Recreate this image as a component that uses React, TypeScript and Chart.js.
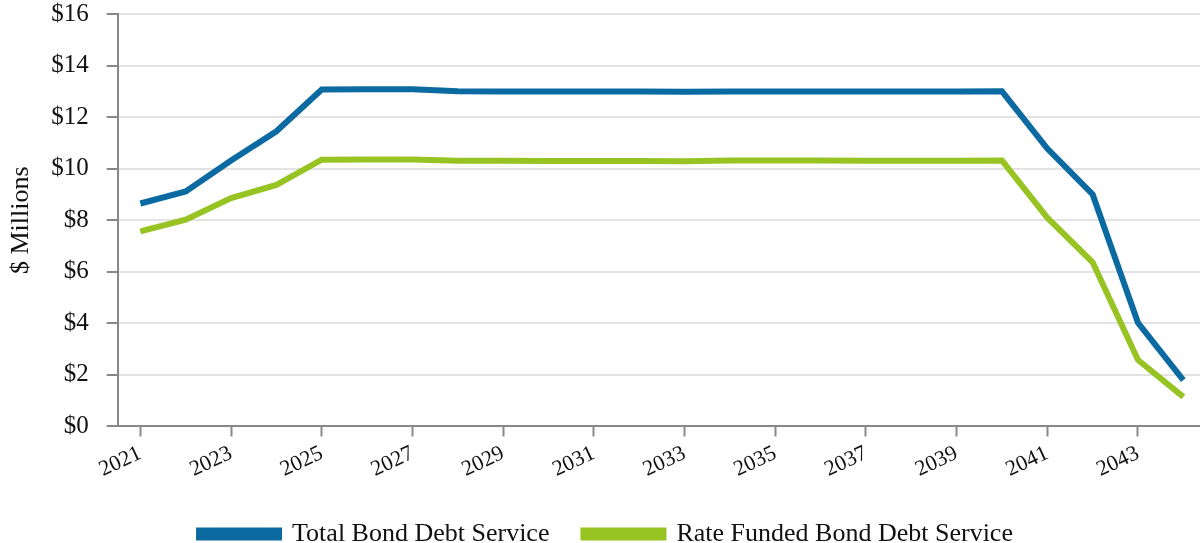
import React, { useEffect, useRef } from "react";
import { Chart, registerables } from "chart.js";

Chart.register(...registerables);

const years = [
  "2021", "2022", "2023", "2024", "2025", "2026", "2027", "2028", "2029", "2030",
  "2031", "2032", "2033", "2034", "2035", "2036", "2037", "2038", "2039", "2040",
  "2041", "2042", "2043", "2044",
];

const totalBondDebtService = [
  8.65, 9.12, 10.32, 11.45, 13.07, 13.08, 13.08, 13.0, 12.99, 12.99,
  12.99, 12.99, 12.98, 12.99, 12.99, 12.99, 12.99, 12.99, 12.99, 13.0,
  10.78, 9.0, 4.02, 1.8,
];

const rateFundedBondDebtService = [
  7.57, 8.02, 8.86, 9.37, 10.35, 10.36, 10.36, 10.31, 10.31, 10.3,
  10.3, 10.3, 10.29, 10.32, 10.32, 10.32, 10.31, 10.31, 10.31, 10.32,
  8.1, 6.37, 2.58, 1.15,
];

const seriesNames = ["Total Bond Debt Service", "Rate Funded Bond Debt Service"];
const yTicks = [0, 2, 4, 6, 8, 10, 12, 14, 16];

const BLUE = "#0a6aa1";
const GREEN = "#97c423";
const FONT = "'Liberation Serif', 'Times New Roman', serif";

export default function App() {
  const ref = useRef<HTMLCanvasElement | null>(null);

  useEffect(() => {
    document.body.style.margin = "0";
    document.body.style.overflow = "hidden";
    const canvas = ref.current;
    if (!canvas) return;
    const chart = new Chart(canvas, {
      type: "line",
      data: {
        labels: years,
        datasets: [
          {
            label: seriesNames[0],
            data: totalBondDebtService,
            borderColor: BLUE,
            backgroundColor: BLUE,
            borderWidth: 6,
            pointRadius: 0,
            tension: 0,
          },
          {
            label: seriesNames[1],
            data: rateFundedBondDebtService,
            borderColor: GREEN,
            backgroundColor: GREEN,
            borderWidth: 6,
            pointRadius: 0,
            tension: 0,
          },
        ],
      },
      options: {
        responsive: false,
        animation: false,
        devicePixelRatio: 1,
        layout: { padding: { top: 0, left: 6, right: 0, bottom: -12 } },
        plugins: {
          tooltip: { enabled: false },
          legend: {
            position: "bottom",
            labels: {
              boxWidth: 80,
              boxHeight: 7,
              padding: 34,
              color: "#111",
              font: { family: FONT, size: 26 },
            },
          },
        },
        scales: {
          x: {
            offset: true,
            border: { display: true, color: "#888", width: 2 },
            grid: {
              display: true,
              drawOnChartArea: false,
              drawTicks: true,
              tickLength: 10,
              tickWidth: 2,
              tickColor: (ctx: any) => (ctx.index % 2 === 0 ? "#888" : "rgba(0,0,0,0)"),
            },
            ticks: {
              autoSkip: false,
              minRotation: 25,
              maxRotation: 25,
              color: "#111",
              font: { family: FONT, size: 22 },
              padding: 4,
              callback: (_v: any, i: number) => (i % 2 === 0 ? years[i] : ""),
            },
          },
          y: {
            min: 0,
            max: 16,
            afterBuildTicks: (scale: any) => {
              scale.ticks = yTicks.map((v) => ({ value: v }));
            },
            border: { display: true, color: "#888", width: 2 },
            grid: {
              color: "#e3e3e3",
              lineWidth: 2,
              tickLength: 11,
              tickColor: "#888",
              tickWidth: 2,
            },
            ticks: {
              color: "#111",
              font: { family: FONT, size: 25 },
              padding: 18,
              callback: (v: any) => "$" + v,
            },
            title: {
              display: true,
              text: "$ Millions",
              color: "#111",
              font: { family: FONT, size: 26 },
              padding: { top: 0, bottom: -4 },
            },
          },
        },
      },
    });
    return () => chart.destroy();
  }, []);

  return (
    <div style={{ width: 1200, height: 543, overflow: "hidden", position: "relative" }}>
      <canvas
        ref={ref}
        width={1206}
        height={564}
        style={{ display: "block", position: "absolute", left: 0, top: -19 }}
      />
    </div>
  );
}
